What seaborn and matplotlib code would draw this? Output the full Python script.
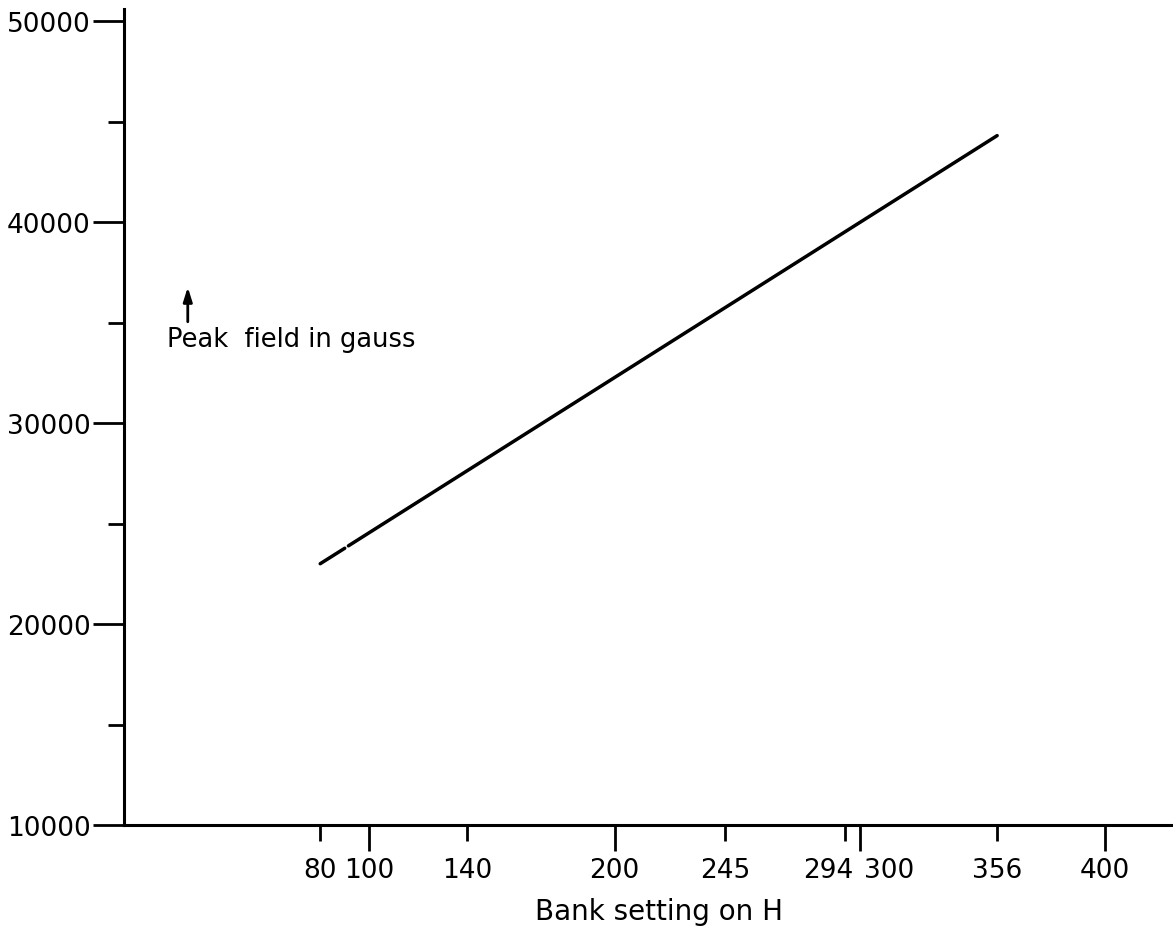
import matplotlib
matplotlib.use("Agg")
import matplotlib.pyplot as plt
import matplotlib.transforms as mtransforms
from matplotlib.ticker import FixedLocator, FixedFormatter
import seaborn as sns
import pandas as pd

# ---- data ----
bank_setting = [80, 90, 91.5, 356]
peak_field = [23000, 23770, 23890, 44300]
segment = [0, 0, 1, 1]

x_ticks = [80, 100, 140, 200, 245, 294, 300, 356, 400]
x_tick_labels = ["80", "100", "140", "200", "245", "294", "300", "356", "400"]
y_major_ticks = [10000, 20000, 30000, 40000, 50000]
y_major_labels = ["10000", "20000", "30000", "40000", "50000"]
y_minor_ticks = [15000, 25000, 35000, 45000]

x_label = "Bank setting on H"
y_text = "Peak  field in gauss"

sns.set_theme(style="white")
plt.rcParams['font.family'] = ['DejaVu Sans']

W, H = 1173, 945
fig = plt.figure(figsize=(W / 100, H / 100), dpi=100)
ax = fig.add_axes([124 / W, (H - 826) / H, (W - 124) / W, (826 - 10) / H])

df = pd.DataFrame({"x": bank_setting, "y": peak_field, "seg": segment})
sns.lineplot(data=df, x="x", y="y", units="seg", estimator=None,
             color="black", linewidth=2.5, ax=ax, legend=False)

ax.set_xlim(0, 427.7)
ax.set_ylim(10000, 50600)

# x ticks: round hundreds are long ticks, others short
x_long = [(v, l) for v, l in zip(x_ticks, x_tick_labels) if v % 100 == 0]
x_short = [(v, l) for v, l in zip(x_ticks, x_tick_labels) if v % 100 != 0]
ax.xaxis.set_major_locator(FixedLocator([v for v, _ in x_long]))
ax.xaxis.set_major_formatter(FixedFormatter([l for _, l in x_long]))
ax.xaxis.set_minor_locator(FixedLocator([v for v, _ in x_short]))
ax.xaxis.set_minor_formatter(FixedFormatter([l for _, l in x_short]))

ax.yaxis.set_major_locator(FixedLocator(y_major_ticks))
ax.yaxis.set_major_formatter(FixedFormatter(y_major_labels))
ax.yaxis.set_minor_locator(FixedLocator(y_minor_ticks))

ax.tick_params(axis="x", which="major", direction="out", length=18.7, width=2,
               pad=4.3, labelsize=19, colors="black", bottom=True)
ax.tick_params(axis="x", which="minor", direction="out", length=11.5, width=2,
               pad=11.5, labelsize=19, colors="black", bottom=True)
ax.tick_params(axis="y", which="major", direction="out", length=22, width=2,
               pad=2, labelsize=19, colors="black", left=True)
ax.tick_params(axis="y", which="minor", direction="out", length=11.5, width=2,
               colors="black", left=True)

fig.canvas.draw()
# separate the crowded 294 / 300 labels like the reference
for lab in ax.xaxis.get_minorticklabels():
    if lab.get_text() == "294":
        lab.set_ha("right")
        lab.set_transform(lab.get_transform() +
                          mtransforms.ScaledTranslation(8 / 100, 0, fig.dpi_scale_trans))
for lab in ax.xaxis.get_majorticklabels():
    if lab.get_text() == "300":
        lab.set_ha("left")
        lab.set_transform(lab.get_transform() +
                          mtransforms.ScaledTranslation(4 / 100, 0, fig.dpi_scale_trans))

for side in ["top", "right"]:
    ax.spines[side].set_visible(False)
for side in ["left", "bottom"]:
    ax.spines[side].set_linewidth(2.2)
    ax.spines[side].set_color("black")

ax.set_xlabel(x_label, fontsize=20, color="black")
ax.xaxis.set_label_coords((659 - 124) / (W - 124), (826 - 898) / 816)
ax.xaxis.label.set_va("top")
ax.set_ylabel("")

ax.text(17.5, 34200, y_text, fontsize=18.5, color="black", ha="left", va="center")
ax.annotate("", xy=(26, 36900), xytext=(26, 34900),
            arrowprops=dict(arrowstyle="-|>,head_width=0.22,head_length=0.7",
                            color="black", lw=2))

ax.set_facecolor("white")
fig.patch.set_facecolor("white")
fig.savefig("out.png", dpi=100)
